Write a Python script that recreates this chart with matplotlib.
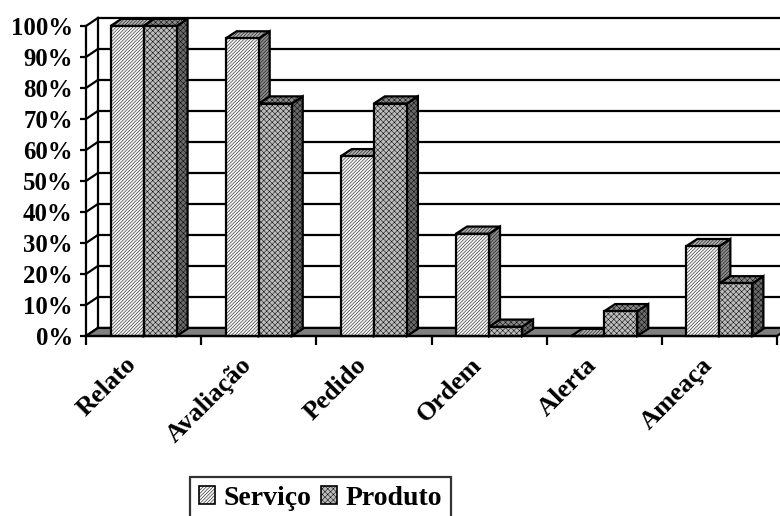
import matplotlib
matplotlib.use("Agg")
import matplotlib.pyplot as plt
from matplotlib.patches import Polygon, Patch
from matplotlib.transforms import ScaledTranslation
import numpy as np

categories = ["Relato", "Avaliação", "Pedido", "Ordem", "Alerta", "Ameaça"]
servico = [100, 96, 58, 33, 0, 29]
produto = [100, 75, 75, 3, 8, 17]
series_names = ["Serviço", "Produto"]
yticks = [0, 10, 20, 30, 40, 50, 60, 70, 80, 90, 100]
ytick_labels = [f"{v}%" for v in yticks]

plt.rcParams['hatch.linewidth'] = 0.35
FONT = ['Liberation Serif', 'DejaVu Serif']

W, H = 780, 516
fig = plt.figure(figsize=(W / 100, H / 100), dpi=100)
ax = fig.add_axes([86 / W, (H - 336) / H, 691 / W, 310 / H])
n = len(categories)
ax.set_xlim(0, n)
ax.set_ylim(0, 100)
ax.patch.set_alpha(0)

# depth offsets (data units)
wdx, wdy = 0.104, 2.6      # walls
bdx, bdy = 0.095, 2.3      # bars
LW = 1.6

# floor
floor = Polygon([(0, 0), (n, 0), (n + wdx, wdy), (wdx, wdy)], closed=True,
                facecolor='#808080', edgecolor='black', lw=LW, clip_on=False, zorder=1)
ax.add_patch(floor)
# back wall gridlines + left wall
for v in yticks:
    ax.plot([wdx, n + wdx], [v + wdy, v + wdy], color='black', lw=LW, clip_on=False, zorder=0.5)
    ax.plot([0, wdx], [v, v + wdy], color='black', lw=LW, clip_on=False, zorder=0.5)
ax.plot([wdx, wdx], [wdy, 100 + wdy], color='black', lw=LW, clip_on=False, zorder=0.5)

w = 0.287
styles = [
    dict(front='#f4f4f4', side='#8c8c8c', top='#b0b0b0', hatch='//////////'),
    dict(front='#bcbcbc', side='#6a6a6a', top='#8a8a8a', hatch='xxxxxx'),
]

def draw_bar(x0, v, st):
    x1 = x0 + w
    side = Polygon([(x1, 0), (x1 + bdx, bdy), (x1 + bdx, v + bdy), (x1, v)], closed=True,
                   facecolor=st['side'], edgecolor='black', lw=LW, hatch=st['hatch'],
                   clip_on=False, zorder=3)
    top = Polygon([(x0, v), (x1, v), (x1 + bdx, v + bdy), (x0 + bdx, v + bdy)], closed=True,
                  facecolor=st['top'], edgecolor='black', lw=LW, hatch=st['hatch'],
                  clip_on=False, zorder=3)
    ax.add_patch(side)
    ax.add_patch(top)
    ax.bar([x0], [v], width=w, align='edge', color=st['front'], edgecolor='black',
           lw=LW, hatch=st['hatch'], zorder=3, clip_on=False)

for i in range(n):
    c = i + 0.5
    draw_bar(c - w, servico[i], styles[0])
    draw_bar(c, produto[i], styles[1])

for s in ['top', 'right']:
    ax.spines[s].set_visible(False)
for s in ['left', 'bottom']:
    ax.spines[s].set_linewidth(LW)
    ax.spines[s].set_zorder(4)

ax.set_yticks(yticks)
ax.set_yticklabels(ytick_labels, fontfamily=FONT, fontweight='bold', fontsize=17.8)
ax.tick_params(axis='y', direction='out', length=4.5, width=LW, pad=5)
ax.set_xticks(np.arange(n + 1))
ax.set_xticklabels([])
ax.tick_params(axis='x', which='major', direction='out', length=6.5, width=LW)

off = ScaledTranslation(-0.19, -0.17, fig.dpi_scale_trans)
for i, lab in enumerate(categories):
    ax.text(i + 0.5, 0, lab, transform=ax.transData + off, rotation=45,
            ha='right', va='top', rotation_mode='anchor',
            fontfamily=FONT, fontweight='bold', fontsize=19)

handles = [Patch(facecolor=styles[k]['front'], edgecolor='black', hatch=styles[k]['hatch'], lw=1.2)
           for k in range(2)]
leg = fig.legend(handles, series_names, ncol=2, loc='upper left',
                 bbox_to_anchor=(190 / W, 1 - 477 / H),
                 prop=dict(family=FONT, weight='bold', size=20),
                 frameon=True, fancybox=False, edgecolor='black',
                 handlelength=0.58, handleheight=0.58, handletextpad=0.3,
                 columnspacing=0.35, borderpad=0.32, borderaxespad=0)
leg.get_frame().set_linewidth(LW)

fig.savefig("out.png", dpi=100)
